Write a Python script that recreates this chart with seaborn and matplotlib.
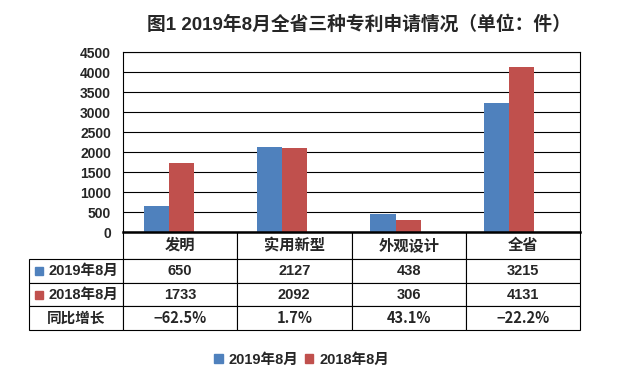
import pandas as pd
import seaborn as sns
import matplotlib.pyplot as plt
from matplotlib.patches import Patch

categorias = ['发明', '实用新型', '外观设计', '全省']
series = ['2019年8月', '2018年8月', '同比增长']
valores_2019 = [650, 2127, 438, 3215]
valores_2018 = [1733, 2092, 306, 4131]
crescimento = [-0.625, 0.017, 0.431, -0.222]
cores = ['#4F81BD', '#C0504D', '#9BBB59']
titulo = '图1 2019年8月全省三种专利申请情况（单位：件）'

sns.set_theme(style='white')
plt.rcParams['font.family'] = ['Liberation Sans', 'Noto Sans CJK SC', 'DejaVu Sans']

df = pd.DataFrame({
    'categoria': categorias * 3,
    'serie': [series[0]] * 4 + [series[1]] * 4 + [series[2]] * 4,
    'valor': valores_2019 + valores_2018 + crescimento,
})

fig = plt.figure(figsize=(6.18, 3.76), dpi=100)
ax = fig.add_axes([122.7 / 618, 1 - 232 / 376, 457.6 / 618, 180 / 376])

sns.barplot(data=df, x='categoria', y='valor', hue='serie', order=categorias,
            hue_order=series, palette=cores, width=0.67, linewidth=0,
            saturation=1, errorbar=None, legend=False, ax=ax)

ax.set_ylim(0, 4500)
ax.set_yticks(range(0, 4501, 500))
ax.set_xticks([])
ax.set_xlabel('')
ax.set_ylabel('')
ax.tick_params(axis='y', length=0, pad=8.5)
for lab in ax.get_yticklabels():
    lab.set_fontweight('bold')
    lab.set_fontsize(10)
ax.grid(axis='y', color='black', linewidth=0.8)
ax.set_axisbelow(True)
for s in ax.spines.values():
    s.set_color('black')
    s.set_linewidth(0.8)
ax.spines['bottom'].set_linewidth(1.8)

# tabela de dados
linhas = [[str(v) for v in valores_2019],
          [str(v) for v in valores_2018],
          [f'{v * 100:.1f}%'.replace('-', '−') for v in crescimento]]
tbl = ax.table(cellText=linhas, rowLabels=series, colLabels=categorias,
               cellLoc='center', rowLoc='center', colLoc='center',
               colWidths=[0.25] * 4, bbox=[0, -0.544, 1, 0.544])
tbl.auto_set_font_size(False)
tbl._autoColumns = []
for (r, c), cell in tbl.get_celld().items():
    cell.set_edgecolor('black')
    cell.set_linewidth(0.8)
    txt = cell.get_text()
    txt.set_fontweight('bold')
    txt.set_fontsize(10.5)
    if c == -1:
        cell.set_width(0.204)
    if r == 0:
        cell.set_height(cell.get_height() * 1.16)
        txt.set_fontsize(11)
    if r == 3:
        txt.set_fontfamily(['Noto Sans CJK SC', 'DejaVu Sans'])
        txt.set_fontsize(10.5)
    if c == -1 and r in (1, 2):
        cell._loc = 'right'
        cell.PAD = 0.05
        txt.set_horizontalalignment('right')

# marcadores coloridos nos rótulos da tabela
for i, cor in enumerate(cores[:2]):
    ax.plot([-0.182], [-(270.5 + 24.0 * i - 232) / 180], marker='s', markersize=6,
            color=cor, transform=ax.transAxes, clip_on=False)

fig.text(0.581, 0.936, titulo, ha='center', va='center', fontsize=13.5, fontweight='bold')

fig.legend(handles=[Patch(color=cores[0], label=series[0]),
                    Patch(color=cores[1], label=series[1])],
           loc='center', bbox_to_anchor=(0.488, 0.043), ncol=2, frameon=False,
           handlelength=0.6, handleheight=0.6, handletextpad=0.4, columnspacing=0.4,
           prop={'weight': 'bold', 'size': 10.5})

plt.savefig('out.png', dpi=100)
